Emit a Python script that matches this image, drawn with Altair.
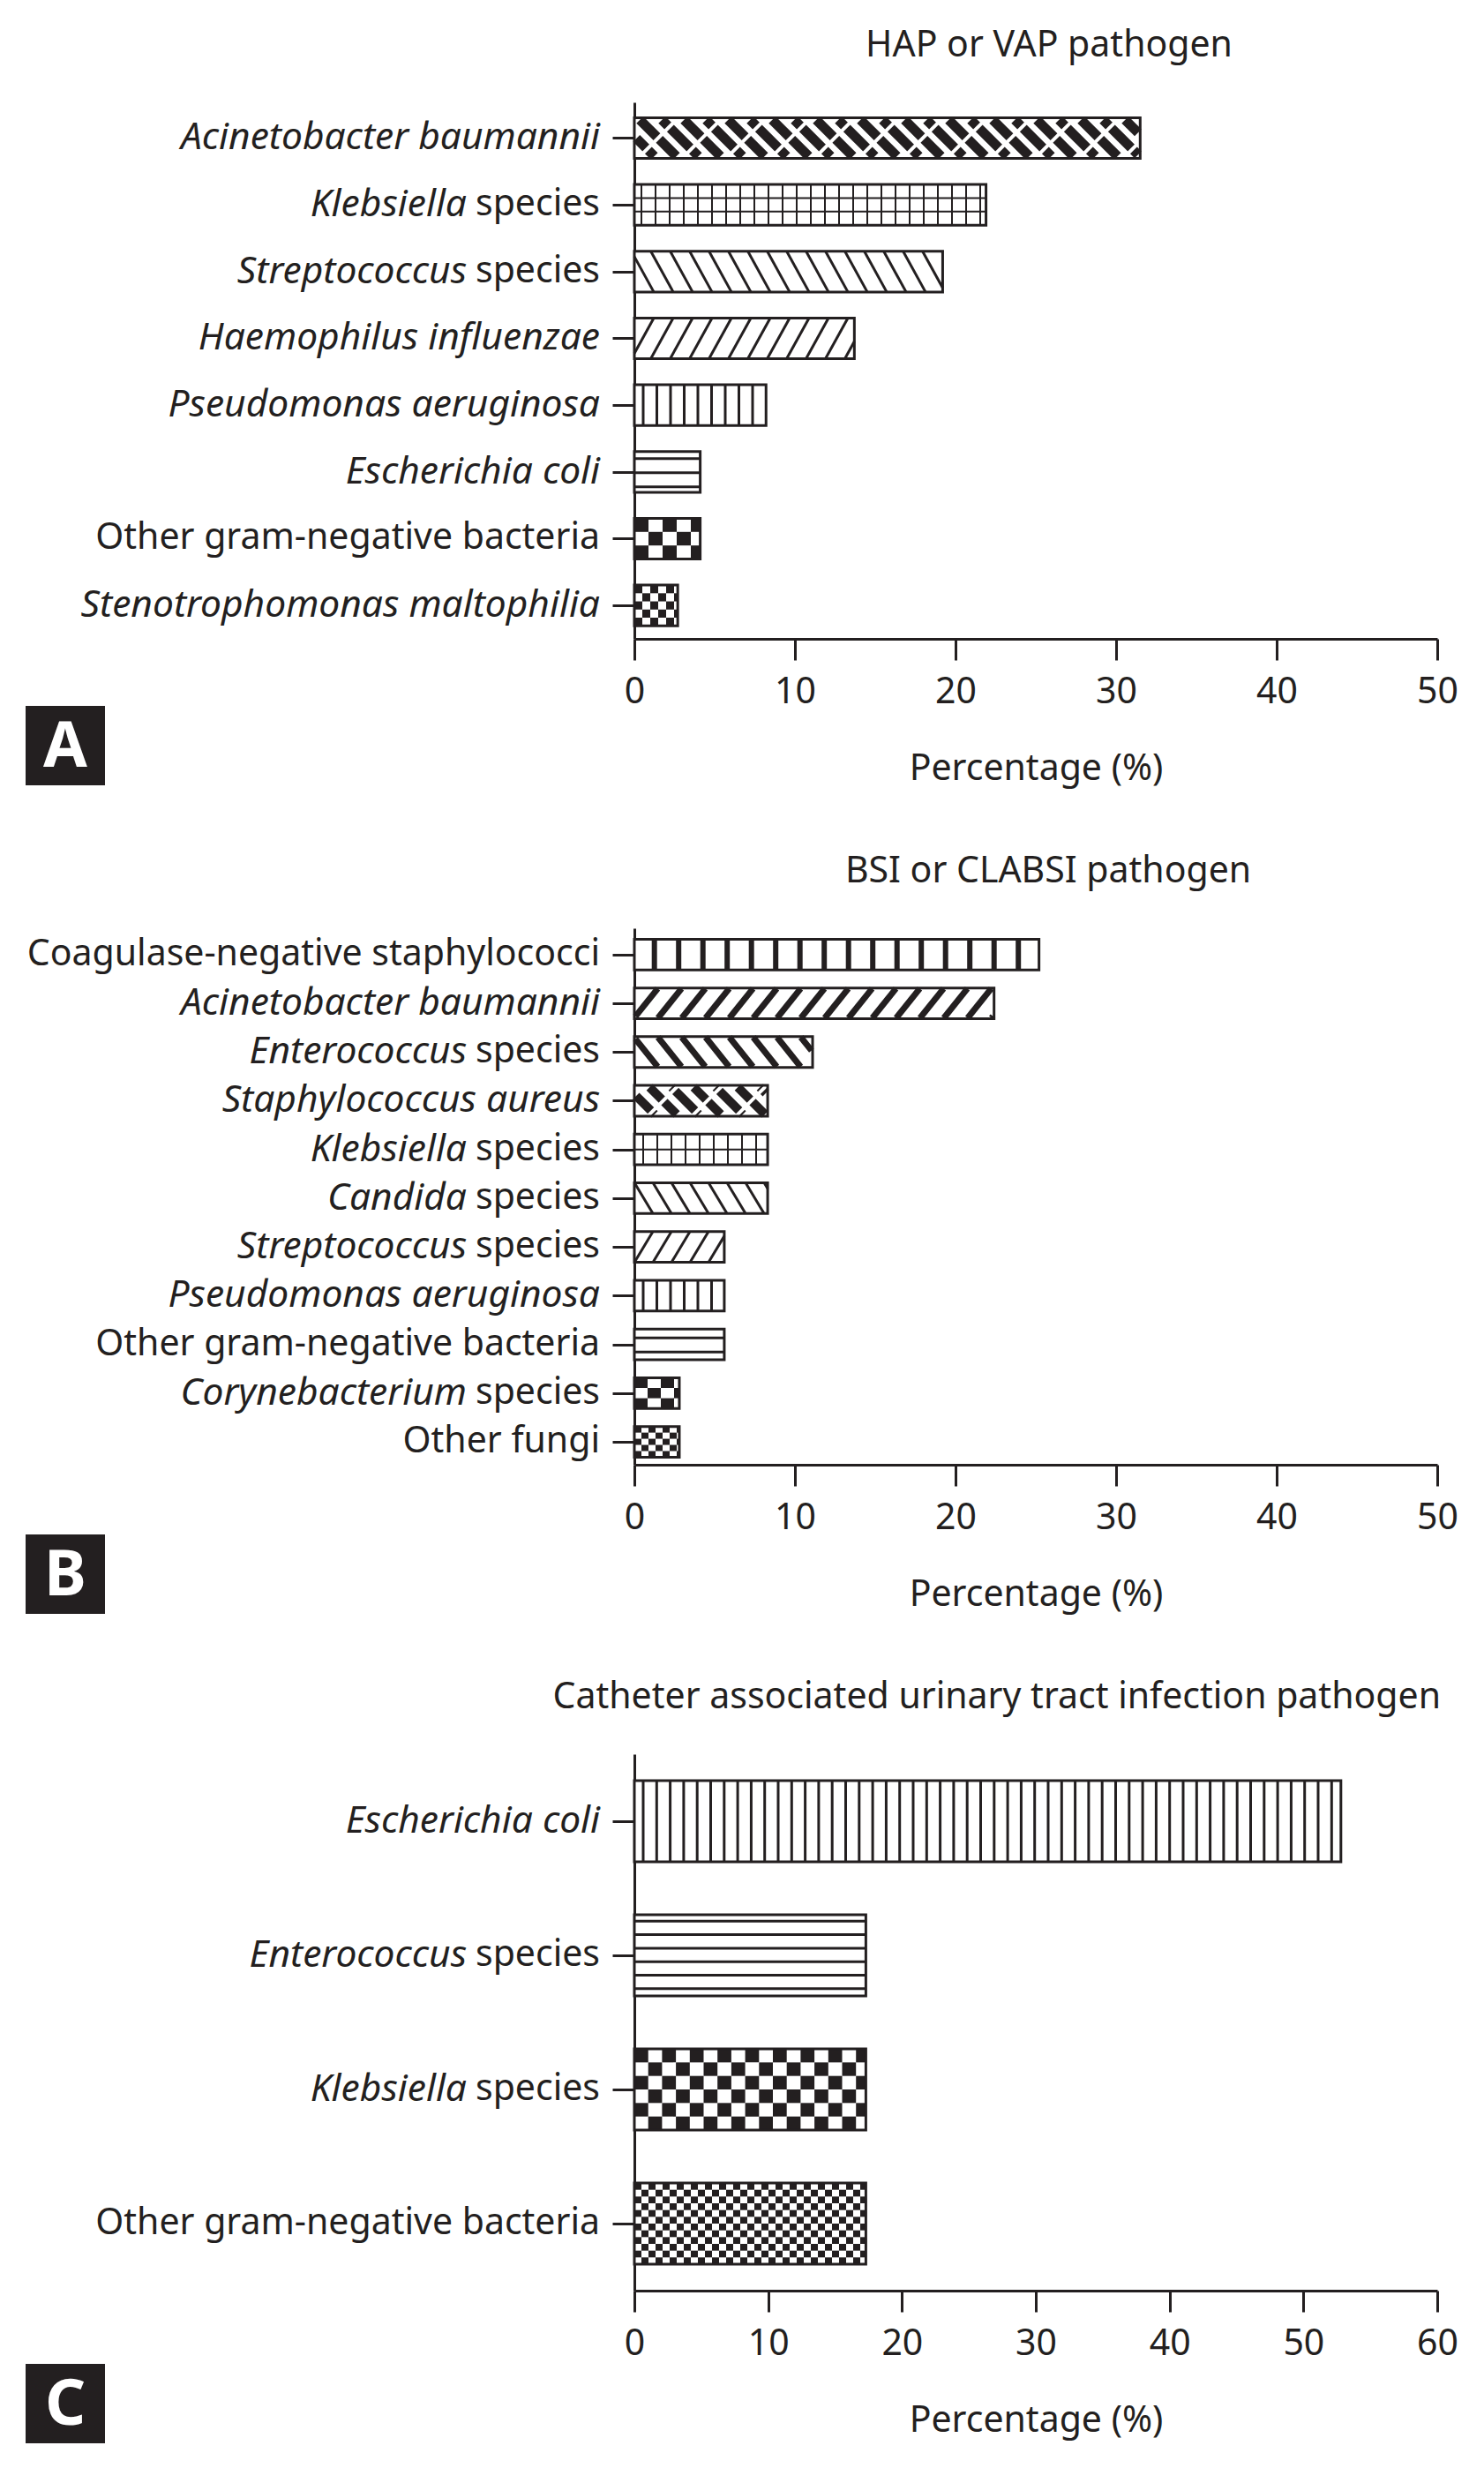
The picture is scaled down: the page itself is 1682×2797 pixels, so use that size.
import altair as alt
import numpy as np
import pandas as pd

# ---------------- data ----------------
A_TITLE = "HAP or VAP pathogen"
A_ITALIC = ["Acinetobacter baumannii", "Klebsiella", "Streptococcus", "Haemophilus influenzae",
            "Pseudomonas aeruginosa", "Escherichia coli", "", "Stenotrophomonas maltophilia"]
A_ROMAN = ["", "species", "species", "", "", "", "Other gram-negative bacteria", ""]
A_VALUES = [31.5, 21.9, 19.2, 13.7, 8.2, 4.1, 4.1, 2.7]
A_PATTERNS = ["diamond", "grid3", "back", "fwd", "vlines", "hlines", "checker_big", "checker_small"]

B_TITLE = "BSI or CLABSI pathogen"
B_ITALIC = ["", "Acinetobacter baumannii", "Enterococcus", "Staphylococcus aureus", "Klebsiella",
            "Candida", "Streptococcus", "Pseudomonas aeruginosa", "", "Corynebacterium", ""]
B_ROMAN = ["Coagulase-negative staphylococci", "", "species", "", "species", "species", "species",
           "", "Other gram-negative bacteria", "species", "Other fungi"]
B_VALUES = [25.2, 22.4, 11.1, 8.3, 8.3, 8.3, 5.6, 5.6, 5.6, 2.8, 2.8]
B_PATTERNS = ["vlines_thick", "fwd_thick", "back_thick", "diamond", "grid2", "back", "fwd",
              "vlines", "hlines", "checker_big", "checker_small"]

C_TITLE = "Catheter associated urinary tract infection pathogen"
C_ITALIC = ["Escherichia coli", "Enterococcus", "Klebsiella", ""]
C_ROMAN = ["", "species", "species", "Other gram-negative bacteria"]
C_VALUES = [52.8, 17.3, 17.3, 17.3]
C_PATTERNS = ["vlines", "hlines", "checker_mid", "checker_fine"]

X_TICKS_AB = [0, 10, 20, 30, 40, 50]
X_TICKS_C = [0, 10, 20, 30, 40, 50, 60]
LETTERS = ["A", "B", "C"]
X_TITLE = "Percentage (%)"

# ---------------- style ----------------
INK = "#231f20"
FONT = "Noto Sans"
FS = 41
FS_IT = 42.5
W, H = 910, 608
LABEL_X = -39
SPECIES_W = 151
BOX_X, BOX_S = -690, 90

STYLE_A = dict(
    ydom=(-0.535, 7.5), bar=0.61, box_top=76, anchor="middle", dx=15,
    pat={
        "diamond": [("d", "\\", 25, 1.0, 11, INK), ("d", "/", 50, 1.0, 4, "white")],
        "grid3": [("v", 8, 16, 2), ("hf", [1 / 3, 2 / 3], 2)],
        "back": [("d", "\\", 22, 0.55, 3, INK)],
        "fwd": [("d", "/", 22, 0.55, 3, INK)],
        "vlines": [("v", 10, 15.5, 3)],
        "hlines": [("h", 8, 16, 3)],
        "checker_big": [("c", 3, 16)],
        "checker_small": [("c", 5, 9)],
    })
STYLE_B = dict(
    ydom=(-0.54, 10.47), bar=0.63, box_top=79, anchor="middle", dx=14,
    pat={
        "vlines_thick": [("v", 22.7, 27.5, 6)],
        "fwd_thick": [("d", "/", 27, 0.8, 7, INK)],
        "back_thick": [("d", "\\", 27, 0.8, 7, INK)],
        "diamond": [("d", "\\", 25, 1.0, 10, INK), ("d", "/", 50, 1.0, 4, "white")],
        "grid2": [("v", 10, 16, 2), ("hf", [0.5], 2)],
        "back": [("d", "\\", 21, 0.6, 3, INK)],
        "fwd": [("d", "/", 21, 0.6, 3, INK)],
        "vlines": [("v", 10, 15.5, 3)],
        "hlines": [("h", 10, 16, 3)],
        "checker_big": [("c", 3, 15)],
        "checker_small": [("c", 5, 8)],
    })
STYLE_C = dict(
    ydom=(-0.5, 3.5), bar=0.605, box_top=83, anchor="end", dx=4,
    pat={
        "vlines": [("v", 10, 15.3, 3)],
        "hlines": [("h", 7.3, 15.3, 3)],
        "checker_mid": [("c", 6, 15.7)],
        "checker_fine": [("c", 12, 8)],
    })


def geometry(values, patterns, st, pxx, pxy):
    """Texture geometry for each bar, derived from the bar's value and a pixel style."""
    rules, cells = [], []
    bar = st["bar"]
    hb = bar * pxy
    for i, (v, p) in enumerate(zip(values, patterns)):
        wb = v * pxx
        top = i - bar / 2

        def add_rule(x1, y1, x2, y2, w, c=INK):
            rules.append(dict(x=x1 / pxx, y=top + y1 / pxy, x2=x2 / pxx, y2=top + y2 / pxy, w=w, c=c))

        def add_cell(x1, y1, x2, y2):
            cells.append(dict(x=x1 / pxx, x2=x2 / pxx, y=top + y1 / pxy, y2=top + y2 / pxy))

        for comp in st["pat"][p]:
            kind = comp[0]
            if kind == "v":
                _, start, step, w = comp
                x = start
                while x < wb - 2:
                    add_rule(x, 0, x, hb, w)
                    x += step
            elif kind == "h":
                _, start, step, w = comp
                y = start
                while y < hb - 2:
                    add_rule(0, y, wb, y, w)
                    y += step
            elif kind == "hf":
                _, fracs, w = comp
                for f in fracs:
                    add_rule(0, f * hb, wb, f * hb, w)
            elif kind == "d":
                _, direction, step, sf, w, color = comp
                slant = sf * hb
                phi = np.arctan2(hb, slant)
                dy = max(0.0, w / 2 * np.cos(phi) - 1.5)
                dx = max(0.0, w / 2 * np.sin(phi) - 1.5)
                b = -slant
                while b < wb:
                    t0 = max(dy / hb, (dx - b) / slant)
                    t1 = min(1 - dy / hb, (wb - dx - b) / slant)
                    if t1 > t0:
                        xa, xb = b + slant * t0, b + slant * t1
                        if direction == "/":
                            ya, yb = hb * (1 - t0), hb * (1 - t1)
                        else:
                            ya, yb = hb * t0, hb * t1
                        add_rule(xa, ya, xb, yb, w, color)
                    b += step
            elif kind == "c":
                _, rows, cw = comp
                ch = hb / rows
                ncol = int(np.ceil(wb / cw))
                for r in range(rows):
                    for c in range(ncol):
                        if (r + c) % 2 == 0:
                            add_cell(c * cw, r * ch, min((c + 1) * cw, wb), (r + 1) * ch)
    return pd.DataFrame(rules), pd.DataFrame(cells)


def panel(letter, title, italic, roman, values, patterns, xticks, st):
    n = len(values)
    xmax = xticks[-1]
    lo, hi = st["ydom"]
    pxx = W / xmax
    pxy = H / (hi - lo)
    bar = st["bar"]
    df = pd.DataFrame({"idx": list(range(n)), "value": values, "ital": italic, "rom": roman})
    df["x0"] = 0.0
    df["y0"] = df["idx"] - bar / 2
    df["y1"] = df["idx"] + bar / 2
    rules, cells = geometry(values, patterns, st, pxx, pxy)

    xsc = alt.Scale(domain=[0, xmax], nice=False, zero=True)
    ysc = alt.Scale(domain=[lo, hi], reverse=True, nice=False, zero=False)
    xax = alt.Axis(values=xticks, format="d", tickSize=24, tickWidth=3, domainWidth=3,
                   tickColor=INK, domainColor=INK, labelColor=INK, labelFont=FONT,
                   labelFontSize=FS, labelPadding=16, labelFlush=False, grid=False,
                   title=X_TITLE, titleFont=FONT, titleFontSize=FS, titleFontWeight="normal",
                   titleColor=INK, titlePadding=47)
    yax = alt.Axis(values=list(range(n)), labels=False, tickSize=25, tickWidth=3, domainWidth=3,
                   tickColor=INK, domainColor=INK, grid=False, title=None)

    base = alt.Chart(df)
    fill = base.mark_rect(fill="white").encode(
        x=alt.X("x0:Q", scale=xsc, axis=xax), x2="value:Q",
        y=alt.Y("y0:Q", scale=ysc, axis=yax), y2="y1:Q")
    cell_l = alt.Chart(cells).mark_rect(color=INK).encode(
        x=alt.X("x:Q", scale=xsc, axis=xax), x2="x2:Q",
        y=alt.Y("y:Q", scale=ysc, axis=yax), y2="y2:Q")
    rule_l = alt.Chart(rules).mark_rule(strokeCap="butt").encode(
        x=alt.X("x:Q", scale=xsc, axis=xax), x2="x2:Q",
        y=alt.Y("y:Q", scale=ysc, axis=yax), y2="y2:Q",
        strokeWidth=alt.StrokeWidth("w:Q", scale=None),
        color=alt.Color("c:N", scale=None))
    outline = base.mark_rect(fill="white", fillOpacity=0, stroke=INK, strokeWidth=3).encode(
        x=alt.X("x0:Q", scale=xsc, axis=xax), x2="value:Q",
        y=alt.Y("y0:Q", scale=ysc, axis=yax), y2="y1:Q")

    txt = dict(align="right", baseline="middle", font=FONT, color=INK)
    rom_l = base.transform_filter("datum.rom != ''").mark_text(fontSize=FS, **txt).encode(
        x=alt.value(LABEL_X), y=alt.Y("idx:Q", scale=ysc, axis=yax), text="rom:N")
    ital_only = base.transform_filter("datum.ital != '' && datum.rom == ''").mark_text(
        fontStyle="italic", fontSize=FS_IT, **txt).encode(
        x=alt.value(LABEL_X), y=alt.Y("idx:Q", scale=ysc, axis=yax), text="ital:N")
    ital_mix = base.transform_filter("datum.ital != '' && datum.rom != ''").mark_text(
        fontStyle="italic", fontSize=FS_IT, **txt).encode(
        x=alt.value(LABEL_X - SPECIES_W), y=alt.Y("idx:Q", scale=ysc, axis=yax), text="ital:N")

    ldf = pd.DataFrame({"letter": [letter]})
    bt = H + st["box_top"]
    box = alt.Chart(ldf).mark_rect(color=INK).encode(
        x=alt.value(BOX_X), x2=alt.value(BOX_X + BOX_S), y=alt.value(bt), y2=alt.value(bt + BOX_S))
    box_t = alt.Chart(ldf).mark_text(color="white", font=FONT, fontSize=72, fontWeight="bold",
                                     align="center", baseline="middle").encode(
        x=alt.value(BOX_X + BOX_S / 2), y=alt.value(bt + BOX_S / 2 + 2), text="letter:N")

    return alt.layer(fill, cell_l, rule_l, outline, rom_l, ital_only, ital_mix, box, box_t).properties(
        width=W, height=H,
        title=alt.TitleParams(text=title, anchor=st["anchor"], dx=st["dx"], frame="group",
                              baseline="alphabetic", offset=11, font=FONT, fontSize=FS,
                              fontWeight="normal", color=INK))


pa = panel(LETTERS[0], A_TITLE, A_ITALIC, A_ROMAN, A_VALUES, A_PATTERNS, X_TICKS_AB, STYLE_A)
pb = panel(LETTERS[1], B_TITLE, B_ITALIC, B_ROMAN, B_VALUES, B_PATTERNS, X_TICKS_AB, STYLE_B)
pc = panel(LETTERS[2], C_TITLE, C_ITALIC, C_ROMAN, C_VALUES, C_PATTERNS, X_TICKS_C, STYLE_C)

chart = alt.vconcat(pa, pb, pc, spacing=328, bounds="flush").resolve_scale(
    x="independent", y="independent").properties(
    padding={"left": 21, "top": 23, "right": 10, "bottom": 10}
).configure_view(stroke=None)

chart.save("out.html", embed_options={"renderer": "svg", "actions": False})
